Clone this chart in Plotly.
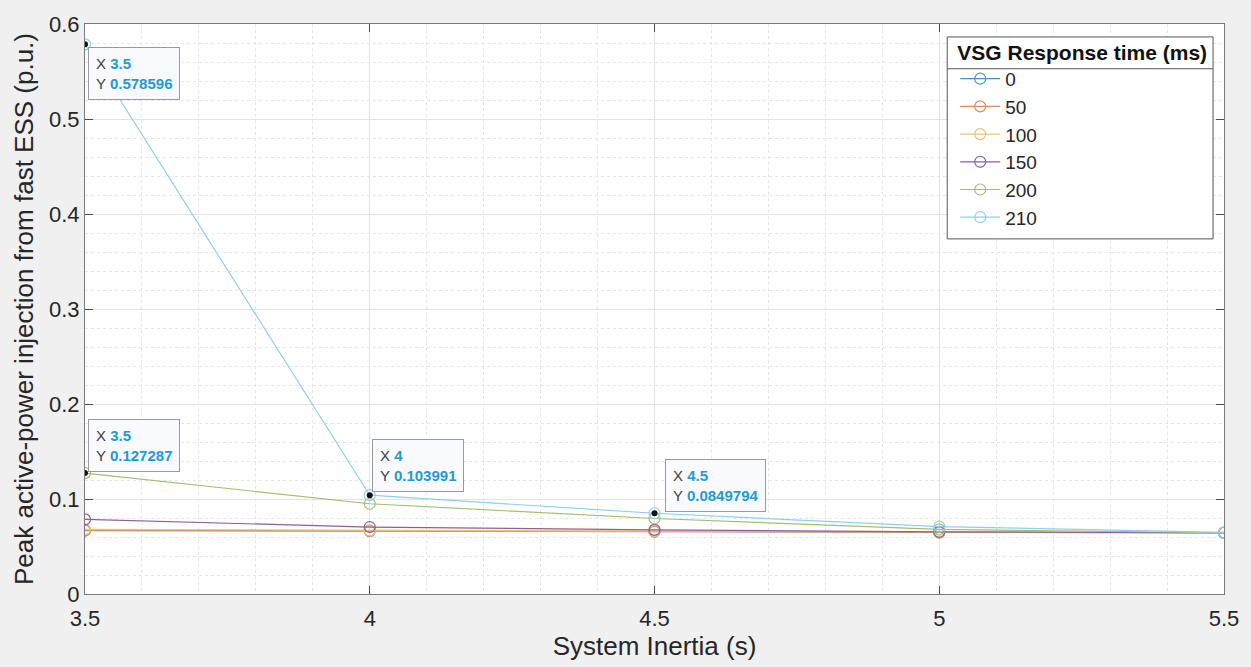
import plotly.graph_objects as go

inertia = [3.5, 4, 4.5, 5, 5.5]
series_names = ["0", "50", "100", "150", "200", "210"]
y_0 = [0.0670, 0.0665, 0.0660, 0.0650, 0.0645]
y_50 = [0.0668, 0.0662, 0.0655, 0.0645, 0.0643]
y_100 = [0.0680, 0.0670, 0.0662, 0.0652, 0.0645]
y_150 = [0.0785, 0.0705, 0.0675, 0.0655, 0.0645]
y_200 = [0.127287, 0.0950, 0.0795, 0.0680, 0.0645]
y_210 = [0.578596, 0.103991, 0.0849794, 0.0710, 0.0648]
colors = ["#4f8fc0", "#d98c6c", "#e9c46e", "#8c5e9b", "#a3be6e", "#8dd0ee"]

tip_x = [3.5, 3.5, 4, 4.5]
tip_y = [0.578596, 0.127287, 0.103991, 0.0849794]
tip_xlabel = ["3.5", "3.5", "4", "4.5"]
tip_ylabel = ["0.578596", "0.127287", "0.103991", "0.0849794"]

all_y = [y_0, y_50, y_100, y_150, y_200, y_210]

FONT = "Liberation Sans, Arial"

fig = go.Figure()
for name, ys, c in zip(series_names, all_y, colors):
    fig.add_trace(go.Scatter(
        x=inertia, y=ys, name=name, mode="lines+markers",
        line=dict(color=c, width=1.2),
        marker=dict(symbol="circle-open", size=11, color=c, line=dict(width=1.2)),
    ))

fig.add_trace(go.Scatter(
    x=tip_x, y=tip_y, mode="markers", showlegend=False,
    marker=dict(color="#111111", size=6),
))

# data tips
offsets = [(3, -3, "left", "top"), (3, 1, "left", "bottom"), (2, 3, "left", "bottom"), (10, 1, "left", "bottom")]
for tx, ty, xl, yl, (xs, ys_, xa, ya) in zip(tip_x, tip_y, tip_xlabel, tip_ylabel, offsets):
    fig.add_annotation(
        x=tx, y=ty, xref="x", yref="y", showarrow=False,
        text=("<span style='color:#404040'>X </span><b style='color:#1f9ad6'>%s</b><br>"
              "<span style='color:#404040'>Y </span><b style='color:#1f9ad6'>%s</b>" % (xl, yl)),
        align="left", xanchor=xa, yanchor=ya, xshift=xs, yshift=ys_,
        font=dict(family=FONT, size=15),
        bgcolor="rgba(248,250,253,0.97)", bordercolor="#9a9a9a", borderwidth=1, borderpad=7,
    )

axis_common = dict(
    showline=True, linecolor="#7a7a7a", linewidth=1, mirror="ticks",
    ticks="inside", ticklen=8, tickcolor="#4a4a4a",
    showgrid=True, gridcolor="#e3e3e3", gridwidth=1,
    zeroline=False,
    tickfont=dict(family=FONT, size=22, color="#262626"),
)

fig.update_xaxes(
    range=[3.5, 5.5], tickvals=[3.5, 4, 4.5, 5, 5.5], ticktext=["3.5", "4", "4.5", "5", "5.5"],
    title=dict(text="System Inertia (s)", font=dict(family=FONT, size=26, color="#262626"), standoff=0),
    minor=dict(dtick=0.1, showgrid=True, gridcolor="#e6e6e6", griddash="dot", ticks=""),
    ticklabelstandoff=5,
    **axis_common,
)
fig.update_yaxes(
    range=[0, 0.6], tickvals=[0, 0.1, 0.2, 0.3, 0.4, 0.5, 0.6],
    ticktext=["0", "0.1", "0.2", "0.3", "0.4", "0.5", "0.6"],
    title=dict(text="Peak active-power injection from fast ESS (p.u.)", font=dict(family=FONT, size=26, color="#262626"), standoff=7),
    minor=dict(dtick=0.02, showgrid=True, gridcolor="#e6e6e6", griddash="dot", ticks=""),
    **axis_common,
)

# legend box (white background, border) and separator under its title
fig.add_shape(type="rect", xref="paper", yref="paper", layer="above",
              x0=0.757, x1=0.9904, y0=0.623, y1=0.9773,
              fillcolor="#ffffff", line=dict(color="#555555", width=1))
fig.add_shape(type="line", xref="paper", yref="paper", layer="above",
              x0=0.757, x1=0.9904, y0=0.9215, y1=0.9215,
              line=dict(color="#555555", width=1))

fig.update_layout(
    width=1251, height=667,
    margin=dict(l=85, r=23, t=22, b=73),
    paper_bgcolor="#f0f0f0", plot_bgcolor="#ffffff",
    font=dict(family=FONT, color="#262626"),
    legend=dict(
        title=dict(text="<b>VSG Response time (ms)</b>", side="top center",
                   font=dict(family=FONT, size=21, color="#111111")),
        x=0.987, y=0.985, xanchor="right", yanchor="top",
        bgcolor="rgba(0,0,0,0)", borderwidth=0,
        font=dict(family=FONT, size=19, color="#262626"),
        itemwidth=40, tracegroupgap=0,
    ),
)

fig.write_html("out.html")
